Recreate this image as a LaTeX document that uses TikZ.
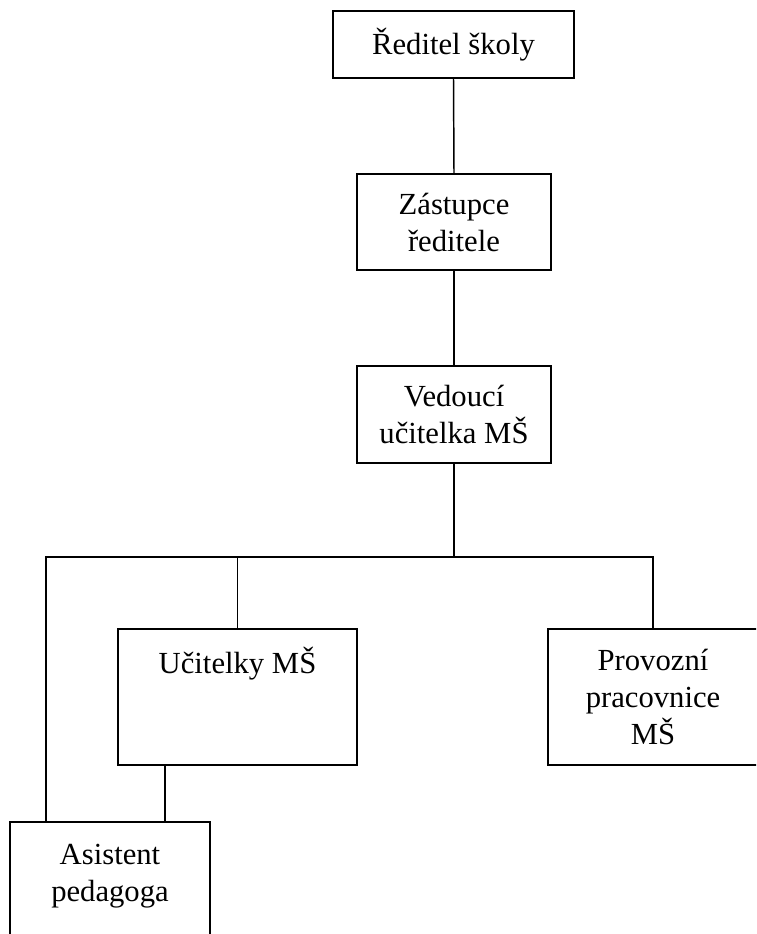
\documentclass[tikz,border=0pt]{standalone}
\usepackage{fontspec}
\setmainfont{Liberation Serif}
\begin{document}
\begin{tikzpicture}[x=0.75pt,y=-0.75pt,
  box/.style={draw=black, line width=1.2pt, align=center, inner sep=0pt,
    font=\fontsize{23}{27.75}\selectfont},
  lbl/.style={align=center, inner sep=0pt, font=\fontsize{23}{27.75}\selectfont},
  conn/.style={line width=1.1pt}]
\useasboundingbox (0,0) rectangle (756,934);
\clip (0,0) rectangle (756,934);

\node[box, minimum width=180.75pt, minimum height=50.25pt] (r) at (453.5,44.5) {Ředitel školy};
\node[box, minimum width=145.5pt, minimum height=72pt] (z) at (454,222) {Zástupce\\ředitele};
\node[box, minimum width=145.5pt, minimum height=72.75pt] (v) at (454,414.5) {Vedoucí\\učitelka MŠ};
\node[box, minimum width=179.25pt, minimum height=102pt] (uc) at (237.5,697) {};
\node[lbl, anchor=base] (uct) at (237.5,673) {Učitelky MŠ};
\node[box, minimum width=157.5pt, minimum height=102pt] (pr) at (653,697) {Provozní\\pracovnice\\MŠ};
\node[box, minimum width=150pt, minimum height=90pt] (as) at (110,882) {};
\node[lbl, anchor=north] (ast) at (110,844) {Asistent\\pedagoga};

\coordinate (jl) at (46,557);
\coordinate (jr) at (653,557);

\draw[conn] (r.south) -- (z.north);
\draw[conn] (z.south) -- (v.north);
\draw[conn] (v.south) -- (v.south |- jl);
\draw[conn] (as.north -| jl) -- (jl) -- (jr) -- (pr.north);
\draw[conn] (uc.north) -- (uc.north |- jl);
\draw[conn] (uc.south -| 165,0) -- (as.north -| 165,0);
\end{tikzpicture}
\end{document}
